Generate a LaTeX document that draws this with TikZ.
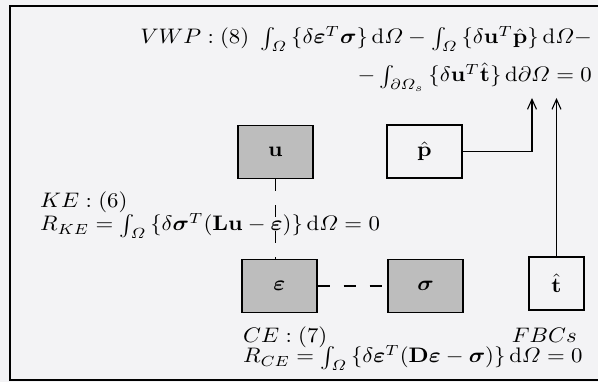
\documentclass[tikz,border=0pt]{standalone}
\usepackage{amsmath, amssymb}
\usepackage{tikz}
\usetikzlibrary{calc, positioning, arrows.meta}
\definecolor{paper}{HTML}{F3F3F5}
\definecolor{stipple}{HTML}{BDBDBD}
\newcommand{\dO}{\,\mathrm{d}\varOmega}
\newcommand{\beps}{\boldsymbol{\varepsilon}}
\newcommand{\bsig}{\boldsymbol{\sigma}}
\newcommand{\eqtext}[1]{\scalebox{2.28}[2.1]{#1}}

\begin{document}
\begin{tikzpicture}[x = 1pt, y = -1pt,
            field/.style = {draw, line width = 1.3pt, minimum width = 75pt, minimum height = 53pt, inner sep = 0pt},
            shaded/.style = {field, fill = stipple},
            link/.style = {line width = 1.9pt, dash pattern = on 12pt off 14pt},
            push/.style = {line width = 1.1pt, -{Straight Barb[length = 10pt, width = 9pt]}},
            txt/.style = {inner sep = 0pt}]
            \useasboundingbox (0,0) rectangle (598,382);
            \fill[paper] (0,0) rectangle (598,382);
            \draw[line width = 1.5pt] (600,6) -- (10,6) -- (10,380) -- (600,380);
            % fields
            \node[shaded] (u) at (275.5,152) {\eqtext{$\mathbf{u}$}};
            \node[field] (p) at (424.5,151.5) {\eqtext{$\hat{\mathbf{p}}$}};
            \node[shaded] (eps) at (279.5,286) {\eqtext{$\beps$}};
            \node[shaded] (sig) at (425.5,286) {\eqtext{$\bsig$}};
            \node[field, minimum width = 55pt] (t) at (556.5,283.5) {\eqtext{$\hat{\mathbf{t}}$}};
            \coordinate (ptip) at (532,98);
            \coordinate (ttip) at (t.north |- ptip);
            % equations
            \node[txt, anchor = base east] (vwp) at (592,44)
                {\eqtext{$VWP : (8)\ \int_\varOmega \,\{\delta\beps^T\bsig\}\dO - \int_\varOmega \,\{\delta\mathbf{u}^T\hat{\mathbf{p}}\}\dO -$}};
            \node[txt, anchor = base east] (vwp2) at (592,82)
                {\eqtext{$-\int_{\partial\varOmega_s} \,\{\delta\mathbf{u}^T\hat{\mathbf{t}}\}\,\mathrm{d}\partial\varOmega = 0$}};
            \node[txt, anchor = base west] (ke) at (40,208) {\eqtext{$KE : (6)$}};
            \node[txt, anchor = base west] (rke) at (40,231)
                {\eqtext{$R_{KE} = \int_\varOmega \,\{\delta\bsig^T(\mathbf{L}\mathbf{u} - \beps)\}\dO = 0$}};
            \node[txt, anchor = base west] (ce) at (243,343) {\eqtext{$CE : (7)$}};
            \node[txt, anchor = base east] (fbc) at (577,343) {\eqtext{$FBCs$}};
            \node[txt, anchor = base west] (rce) at (243,363)
                {\eqtext{$R_{CE} = \int_\varOmega \,\{\delta\beps^T(\mathbf{D}\beps - \bsig)\}\dO = 0$}};
            % links
            \draw[link] (u.south) -- (u.south |- eps.north);
            \draw[link] (eps.east) -- (sig.west);
            \draw[push] (p.east) -| (ptip);
            \draw[push] (t.north) -- (ttip);
        \end{tikzpicture}
\end{document}
